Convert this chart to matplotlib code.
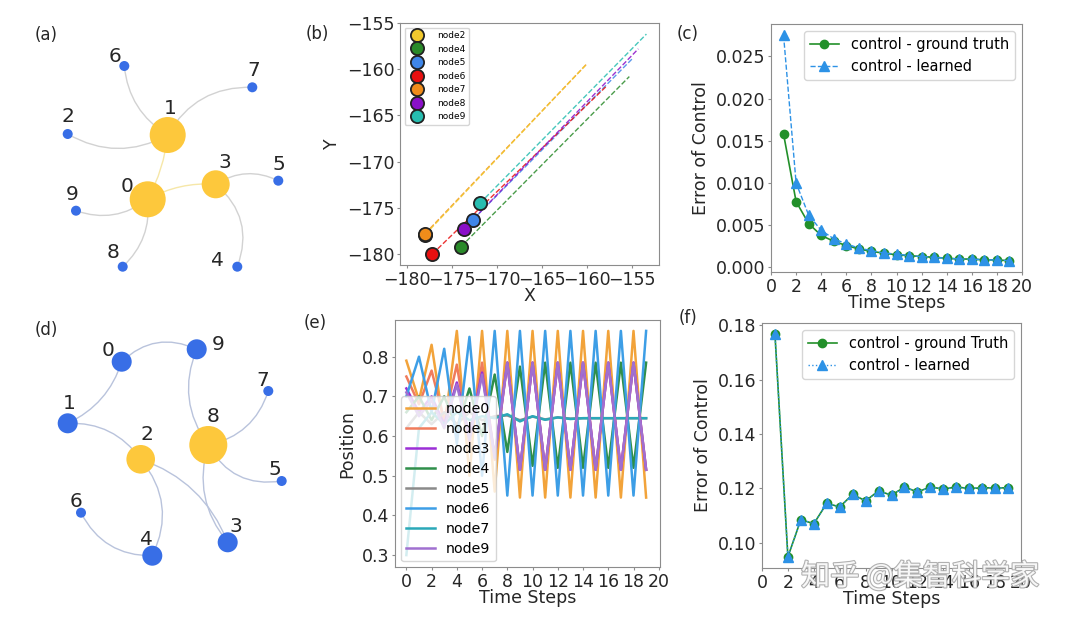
import matplotlib
matplotlib.use('Agg')
import matplotlib.pyplot as plt
import matplotlib.patheffects as pe
from matplotlib.patches import Circle, FancyArrowPatch

W, H = 1080, 620

# ---------------- network (a) ----------------
a_x = [147.7, 167.7, 67.7, 215.7, 237.3, 278.3, 124.3, 252.3, 122.7, 76.0]
a_y = [199.3, 135.0, 134.0, 184.3, 266.7, 180.7, 66.0, 87.3, 266.7, 210.7]
a_size = [18, 18, 5, 14, 5, 5, 5, 5, 5, 5]
a_ctrl = [1, 1, 0, 1, 0, 0, 0, 0, 0, 0]
a_lab_x = [127.3, 170.0, 68.3, 225.0, 217.7, 279.3, 115.0, 253.3, 113.3, 71.7]
a_lab_y = [186.7, 108.3, 116.0, 162.7, 260.0, 164.0, 56.0, 71.0, 252.7, 194.0]
a_edges = [(1, 6, -0.25), (1, 7, -0.3), (1, 2, -0.28), (0, 9, -0.27), (0, 8, -0.25),
           (3, 5, -0.28), (3, 4, -0.35), (1, 0, -0.1), (0, 3, -0.15)]

# ---------------- network (d) ----------------
d_x = [121.7, 67.7, 140.7, 227.7, 152.3, 281.7, 81.0, 268.3, 208.3, 196.7]
d_y = [361.7, 423.3, 459.3, 542.3, 555.7, 481.0, 512.7, 391.0, 445.0, 349.3]
d_size = [10, 10, 14.3, 10, 10, 5, 5, 5, 19, 10]
d_ctrl = [0, 0, 1, 0, 0, 0, 0, 0, 1, 0]
d_lab_x = [108.3, 69.0, 147.3, 236.0, 146.7, 275.0, 76.0, 262.7, 213.3, 218.3]
d_lab_y = [350.0, 403.3, 435.0, 526.7, 539.3, 469.3, 501.7, 380.0, 416.0, 345.0]
d_edges = [(0, 9, -0.34), (1, 0, 0.22), (9, 8, 0.28), (1, 2, -0.27), (8, 7, 0.29),
           (8, 5, 0.35), (8, 3, 0.27), (2, 3, -0.23), (2, 4, -0.32), (6, 4, 0.31)]

# ---------------- (b) trajectories ----------------
b_nodes = ['node2', 'node4', 'node5', 'node6', 'node7', 'node8', 'node9']
b_colors = ['#f2c92e', '#2a8a2a', '#3f86e8', '#e81010', '#f08c1a', '#8a10c8', '#27bdb0']
b_start_x = [-178.0, -174.0, -172.7, -177.2, -178.0, -173.7, -171.9]
b_start_y = [-177.9, -179.2, -176.3, -180.0, -177.8, -177.3, -174.5]
b_end_x = [-160.0, -155.3, -155.0, -157.8, -160.0, -154.3, -153.4]
b_end_y = [-159.4, -160.8, -158.9, -161.8, -159.4, -157.8, -156.2]

# ---------------- (c) error of control ----------------
c_t = list(range(1, 20))
c_truth = [0.0158, 0.0078, 0.0052, 0.0038, 0.0031, 0.0026, 0.0022, 0.0019, 0.0017, 0.0015,
           0.0014, 0.0013, 0.0012, 0.0011, 0.0010, 0.0010, 0.0009, 0.0009, 0.0008]
c_learned = [0.0275, 0.0100, 0.0062, 0.0044, 0.0034, 0.0028, 0.0023, 0.0020, 0.0017, 0.0016,
             0.0014, 0.0013, 0.0012, 0.0011, 0.0010, 0.0010, 0.0009, 0.0009, 0.0008]

# ---------------- (e) positions ----------------
e_t = list(range(20))
e_names = ['node0', 'node1', 'node3', 'node4', 'node5', 'node6', 'node7', 'node9']
e_colors = ['#f2a33a', '#f07c5c', '#9b2fd6', '#2f8f4a', '#8a8a8a', '#3d9ee6', '#2aa8b8', '#a070d0']
e_node0 = [0.79, 0.69, 0.83, 0.62, 0.865, 0.50, 0.865, 0.46, 0.865, 0.445,
           0.865, 0.445, 0.865, 0.445, 0.865, 0.445, 0.865, 0.445, 0.865, 0.445]
e_node1 = [0.75, 0.68, 0.765, 0.64, 0.78, 0.58, 0.785, 0.54, 0.785, 0.515,
           0.785, 0.515, 0.785, 0.515, 0.785, 0.515, 0.785, 0.515, 0.785, 0.515]
e_node3 = [0.72, 0.66, 0.70, 0.63, 0.735, 0.60, 0.76, 0.55, 0.785, 0.515,
           0.785, 0.515, 0.785, 0.515, 0.785, 0.515, 0.785, 0.515, 0.785, 0.515]
e_node4 = [0.66, 0.70, 0.64, 0.70, 0.62, 0.72, 0.60, 0.755, 0.56, 0.775,
           0.525, 0.785, 0.52, 0.785, 0.52, 0.785, 0.52, 0.785, 0.52, 0.785]
e_node5 = [0.62, 0.66, 0.63, 0.66, 0.63, 0.66, 0.64, 0.65, 0.652, 0.64,
           0.649, 0.642, 0.647, 0.644, 0.645, 0.645, 0.645, 0.645, 0.645, 0.645]
e_node6 = [0.70, 0.80, 0.66, 0.82, 0.58, 0.85, 0.50, 0.865, 0.45, 0.865,
           0.45, 0.865, 0.45, 0.865, 0.45, 0.865, 0.45, 0.865, 0.45, 0.865]
e_node7 = [0.30, 0.62, 0.66, 0.63, 0.66, 0.64, 0.65, 0.645, 0.655, 0.637,
           0.650, 0.641, 0.647, 0.643, 0.645, 0.645, 0.645, 0.645, 0.645, 0.645]
e_node9 = [0.71, 0.65, 0.69, 0.62, 0.73, 0.59, 0.755, 0.545, 0.785, 0.515,
           0.785, 0.515, 0.785, 0.515, 0.785, 0.515, 0.785, 0.515, 0.785, 0.515]
e_series = [e_node0, e_node1, e_node3, e_node4, e_node5, e_node6, e_node7, e_node9]

# ---------------- (f) error of control ----------------
f_t = list(range(1, 20))
f_truth = [0.1768, 0.0948, 0.1085, 0.1070, 0.1145, 0.1132, 0.1178, 0.1154, 0.1191, 0.1175,
           0.1205, 0.1187, 0.1205, 0.1198, 0.1205, 0.1200, 0.1202, 0.1202, 0.1202]
f_learned = [0.1768, 0.0948, 0.1085, 0.1070, 0.1145, 0.1132, 0.1178, 0.1154, 0.1191, 0.1175,
             0.1205, 0.1187, 0.1205, 0.1198, 0.1205, 0.1200, 0.1202, 0.1202, 0.1202]

YELLOW = '#fdc83c'
BLUE = '#386ee6'
GREEN = '#22902a'
LBLUE = '#2d92e6'
SPINE = '#8c8c8c'
TXT = '#262626'
FS = 12.5

plt.rcParams['font.family'] = ['DejaVu Sans']


def px_axes(fig, left, top, right, bottom):
    return fig.add_axes([left / W, 1 - bottom / H, (right - left) / W, (bottom - top) / H])


def style(ax):
    for s in ax.spines.values():
        s.set_color(SPINE)
    ax.tick_params(colors=SPINE, labelcolor=TXT, labelsize=FS, length=2.5, pad=1.5)


fig = plt.figure(figsize=(W / 100, H / 100), dpi=100)

# background axes in pixel units for the network drawings
net = fig.add_axes([0, 0, 1, 1])
net.set_xlim(0, W)
net.set_ylim(H, 0)
net.axis('off')


def draw_net(xs, ys, sizes, ctrl, lx, ly, edges, ecol, ecol_ctrl):
    for a, b, rad in edges:
        col = ecol_ctrl if (ctrl[a] and ctrl[b]) else ecol
        p = FancyArrowPatch((xs[a], ys[a]), (xs[b], ys[b]), connectionstyle=f"arc3,rad={rad}",
                            arrowstyle='-', color=col, lw=1.0, zorder=1,
                            shrinkA=0, shrinkB=0)
        net.add_patch(p)
    for i in range(len(xs)):
        net.add_patch(Circle((xs[i], ys[i]), sizes[i], color=YELLOW if ctrl[i] else BLUE,
                             zorder=2, lw=0))
        net.text(lx[i], ly[i], str(i), fontsize=14.5, ha='center', va='center', color=TXT,
                 zorder=3)


draw_net(a_x, a_y, a_size, a_ctrl, a_lab_x, a_lab_y, a_edges, '#d2d2d2', '#f6e7a8')
draw_net(d_x, d_y, d_size, d_ctrl, d_lab_x, d_lab_y, d_edges, '#b9c3dc', '#b9c3dc')

for lab, x, y in [('(a)', 46, 35), ('(b)', 317, 34), ('(c)', 688, 34),
                  ('(d)', 46, 330), ('(e)', 315, 323), ('(f)', 688, 318)]:
    net.text(x, y, lab, fontsize=12, ha='center', va='center', color=TXT)

# ---------------- (b) ----------------
axb = px_axes(fig, 400, 23, 659, 265)
for i, name in enumerate(b_nodes):
    axb.plot([b_start_x[i], b_end_x[i]], [b_start_y[i], b_end_y[i]], '--', color=b_colors[i],
             lw=1.0, alpha=0.85, zorder=3 if name == 'node2' else 2)
for i, name in enumerate(b_nodes):
    axb.plot(b_start_x[i], b_start_y[i], 'o', color=b_colors[i], ms=9.5, mec='#222222',
             mew=1.3, label=name, ls='none', zorder=5)
axb.set_xlim(-180.8, -152)
axb.set_ylim(-181.2, -155)
axb.set_xticks([-180, -175, -170, -165, -160, -155])
axb.set_yticks([-180, -175, -170, -165, -160, -155])
axb.set_xlabel('X', fontsize=FS, labelpad=-1, color=TXT)
axb.set_ylabel('Y', fontsize=FS, color=TXT)
style(axb)
axb.legend(loc='upper left', fontsize=6.5, labelspacing=0.5, handletextpad=1.2,
           borderpad=0.4)

# ---------------- (c) ----------------
axc = px_axes(fig, 771, 24, 1022, 272)
axc.plot(c_t, c_truth, '-o', color=GREEN, ms=6, lw=1.2, label='control - ground truth')
axc.plot(c_t, c_learned, '--^', color=LBLUE, ms=6.5, lw=1.0, label='control - learned')
axc.set_xlim(0, 20)
axc.set_xticks(range(0, 21, 2))
axc.set_yticks([0.0, 0.005, 0.010, 0.015, 0.020, 0.025])
axc.set_yticklabels(['0.000', '0.005', '0.010', '0.015', '0.020', '0.025'])
axc.set_xlabel('Time Steps', fontsize=FS, labelpad=-1, color=TXT)
axc.set_ylabel('Error of Control', fontsize=FS, color=TXT)
style(axc)
axc.legend(loc='upper right', fontsize=10.5)

# ---------------- (e) ----------------
axe = px_axes(fig, 395, 320, 660, 567)
for name, col, vals in zip(e_names, e_colors, e_series):
    axe.plot(e_t, vals, '-', color=col, lw=1.8, label=name)
axe.set_xlim(-0.9, 20.1)
axe.set_ylim(0.27, 0.8925)
axe.set_xticks(range(0, 21, 2))
axe.set_yticks([0.3, 0.4, 0.5, 0.6, 0.7, 0.8])
axe.set_xlabel('Time Steps', fontsize=FS, labelpad=-1, color=TXT)
axe.set_ylabel('Position', fontsize=FS, color=TXT)
style(axe)
axe.legend(loc='lower left', fontsize=10.2, labelspacing=0.42, borderaxespad=0.4)

# ---------------- (f) ----------------
axf = px_axes(fig, 762, 323, 1021, 568)
axf.plot(f_t, f_truth, '-o', color=GREEN, ms=6, lw=1.2, label='control - ground Truth')
axf.plot(f_t, f_learned, ':^', color=LBLUE, ms=6.5, lw=1.0, label='control - learned')
axf.set_xlim(0, 20)
axf.set_xticks(range(0, 21, 2))
axf.set_yticks([0.10, 0.12, 0.14, 0.16, 0.18])
axf.set_xlabel('Time Steps', fontsize=FS, labelpad=-1, color=TXT)
axf.set_ylabel('Error of Control', fontsize=FS, color=TXT)
style(axf)
axf.legend(loc='upper right', fontsize=10.5)

# watermark
fig.text(920 / W, 1 - 577 / H, '知乎 @集智科学家', fontsize=21, color='white', ha='center',
         va='center', family=['Noto Sans CJK SC', 'DejaVu Sans'], zorder=20, alpha=0.9,
         path_effects=[pe.withStroke(linewidth=1.6, foreground='#a8a8a8')])

fig.savefig('out.png', dpi=100)
